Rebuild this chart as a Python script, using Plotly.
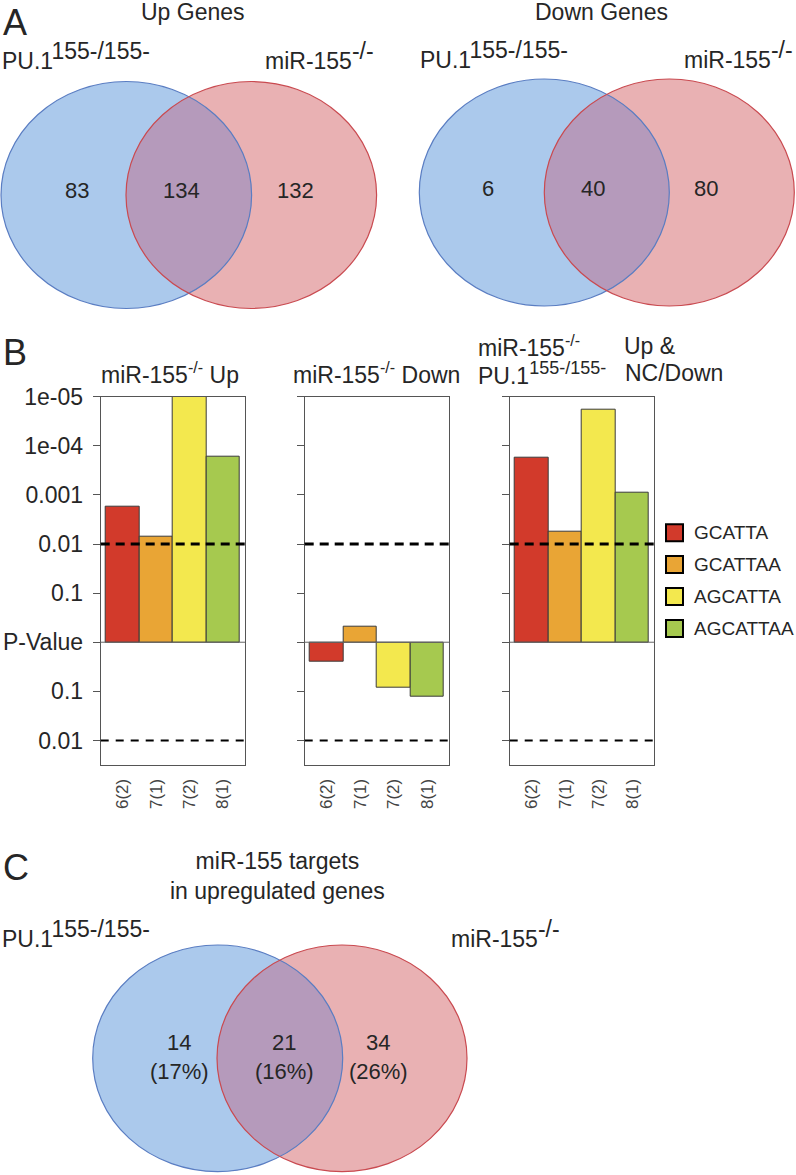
import numpy as np
import plotly.graph_objects as go

W, H = 796, 1175
FONT = "Liberation Sans, Arial, sans-serif"
TXT = "#262626"

# ---------------- data ----------------
motifs = ["GCATTA", "GCATTAA", "AGCATTA", "AGCATTAA"]
site_labels = ["6(2)", "7(1)", "7(2)", "8(1)"]
motif_colors = ["#d23a2b", "#e9a535", "#f3e84e", "#a6c94f"]

# -log10(P); positive = enriched, negative = depleted
up_logp = [2.76, 2.14, 5.0, 3.77]
down_logp = [-0.40, 0.31, -0.93, -1.10]
both_logp = [3.75, 2.25, 4.73, 3.05]

ytick_vals = [5, 4, 3, 2, 1, 0, -1, -2]
ytick_text = ["1e-05", "1e-04", "0.001", "0.01", "0.1", "P-Value", "0.1", "0.01"]
sig_level = 2  # 0.01

up_venn = [83, 134, 132]
down_venn = [6, 40, 80]
target_venn = [14, 21, 34]
target_pct = [17, 16, 26]


def px(x):
    return x / W


def py(y):
    return 1 - y / H


fig = go.Figure()
shapes = []
annotations = []

# ---------------- panel B bar charts ----------------
panels = [
    (up_logp, (100.7, 245.0)),
    (down_logp, (304.7, 449.3)),
    (both_logp, (509.7, 654.3)),
]
ydom = [py(765), py(396.7)]
layout_axes = {}
for k, (vals, (xa, xb)) in enumerate(panels):
    sfx = "" if k == 0 else str(k + 1)
    fig.add_trace(go.Bar(
        x=list(range(len(vals))), y=vals, width=1,
        marker=dict(color=motif_colors, line=dict(color="#3a3a3a", width=1)),
        xaxis="x" + sfx, yaxis="y" + sfx, showlegend=False, hoverinfo="skip"))
    layout_axes["xaxis" + sfx] = dict(
        domain=[px(xa), px(xb)], anchor="y" + sfx, range=[-0.66, 3.66],
        tickmode="array", tickvals=list(range(4)), ticktext=site_labels,
        tickangle=-90, ticks="", ticklabelstandoff=6,
        tickfont=dict(size=17, color="#444", family=FONT),
        showline=True, mirror=True, linecolor="#555", linewidth=1,
        showgrid=False, zeroline=False, automargin=False, fixedrange=True)
    layout_axes["yaxis" + sfx] = dict(
        domain=ydom, anchor="x" + sfx, range=[-2.5, 5],
        tickmode="array", tickvals=ytick_vals, ticktext=ytick_text,
        showticklabels=(k == 0), ticks="outside", ticklen=7, tickcolor="#555",
        ticklabelstandoff=5,
        tickfont=dict(size=23, color=TXT, family=FONT),
        showline=True, mirror=True, linecolor="#555", linewidth=1,
        showgrid=False, zeroline=False, automargin=False, fixedrange=True)
    xd = "x" + sfx + " domain"
    yr = "y" + sfx
    shapes.append(dict(type="line", xref=xd, yref=yr, x0=0, x1=1, y0=0, y1=0,
                       line=dict(color="#666", width=1)))
    shapes.append(dict(type="line", xref=xd, yref=yr, x0=0, x1=1,
                       y0=sig_level, y1=sig_level,
                       line=dict(color="black", width=3, dash="9px,6px")))
    shapes.append(dict(type="line", xref=xd, yref=yr, x0=0, x1=1,
                       y0=-sig_level, y1=-sig_level,
                       line=dict(color="black", width=2, dash="8px,7px")))


def ann(text, x, y, size=23, xanchor="center", yanchor="middle", color=TXT):
    annotations.append(dict(text=text, x=px(x), y=py(y), xref="paper", yref="paper",
                            showarrow=False, xanchor=xanchor, yanchor=yanchor,
                            font=dict(size=size, color=color, family=FONT)))


# panel titles
ann("miR-155<sup>-/-</sup> Up", 170, 373)
ann("miR-155<sup>-/-</sup> Down", 376, 373)
ann("miR-155<sup>-/-</sup>", 476, 346, xanchor="left")
ann("Up &", 622, 346, xanchor="left")
ann("PU.1<sup><span style='font-size:18px'>155-/155-</span></sup>", 476, 373, xanchor="left")
ann("NC/Down", 623, 373, xanchor="left")

# legend (custom)
leg_y = [532.7, 564.6, 596.5, 628.4]
for m, c, yy in zip(motifs, motif_colors, leg_y):
    shapes.append(dict(type="rect", xref="paper", yref="paper",
                       x0=px(666), x1=px(683), y0=py(yy + 8.5), y1=py(yy - 8.5),
                       fillcolor=c, line=dict(color="black", width=2)))
    ann(m, 692, yy, size=19, xanchor="left")

# ---------------- Venn diagrams ----------------
BLUE_F, BLUE_L = "#abc9ec", "#5a7dc2"
RED_F, RED_L = "#e9b1b3", "#c94a50"
LENS_F = "#b59abb"


def venn(cx1, cx2, cy, rx, ry):
    def ell(cx, fill):
        return dict(type="circle", xref="paper", yref="paper",
                    x0=px(cx - rx), x1=px(cx + rx), y0=py(cy + ry), y1=py(cy - ry),
                    fillcolor=fill, line=dict(width=0))
    shapes.append(ell(cx1, BLUE_F))
    shapes.append(ell(cx2, RED_F))
    d = cx2 - cx1
    th = np.arccos(d / 2 / rx)
    t1 = np.linspace(-th, th, 60)
    t2 = np.linspace(np.pi - th, np.pi + th, 60)
    xs = np.concatenate([cx1 + rx * np.cos(t1), cx2 + rx * np.cos(t2)])
    ys = np.concatenate([cy + ry * np.sin(t1), cy + ry * np.sin(t2)])
    path = "M " + " L ".join(f"{px(a):.5f},{py(b):.5f}" for a, b in zip(xs, ys)) + " Z"
    shapes.append(dict(type="path", xref="paper", yref="paper", path=path,
                       fillcolor=LENS_F, line=dict(width=0)))
    for cx, lc in ((cx1, BLUE_L), (cx2, RED_L)):
        shapes.append(dict(type="circle", xref="paper", yref="paper",
                           x0=px(cx - rx), x1=px(cx + rx), y0=py(cy + ry), y1=py(cy - ry),
                           fillcolor="rgba(0,0,0,0)", line=dict(color=lc, width=1.2)))


PU1 = "PU.1<sup><span style='font-size:23px'>155-/155-</span></sup>"
MIR = "miR-155<sup><span style='font-size:23px'>-/-</span></sup>"

# A: Up genes
venn(126.3, 251.3, 195, 125.3, 113.5)
for v, x in zip(up_venn, [76.7, 181, 295.7]):
    ann(str(v), x, 191, size=22)
ann("Up Genes", 193, 12)
ann(PU1, 0, 56, xanchor="left")
ann(MIR, 263, 56, xanchor="left")

# A: Down genes
venn(544.3, 669.3, 192.5, 125, 113.5)
for v, x in zip(down_venn, [487.7, 592.7, 706]):
    ann(str(v), x, 188, size=22)
ann("Down Genes", 601, 12)
ann(PU1, 418, 55, xanchor="left")
ann(MIR, 682, 55, xanchor="left")

# C: targets
venn(217.7, 342.0, 1058.3, 125, 113.3)
for v, p, x in zip(target_venn, target_pct, [179, 284.3, 378.3]):
    ann(f"{v}<br>({p}%)", x, 1056.7, size=22)
ann("miR-155 targets<br>in upregulated genes", 277, 876)
ann(PU1, 0, 934, xanchor="left")
ann(MIR, 449, 934, xanchor="left")

# panel letters
ann("A", 1, 0, size=36, xanchor="left", yanchor="top")
ann("B", 1, 352, size=36, xanchor="left")
ann("C", 1, 867, size=36, xanchor="left")

fig.update_layout(
    width=W, height=H, margin=dict(l=0, r=0, t=0, b=0),
    template="none", paper_bgcolor="white", plot_bgcolor="white",
    bargap=0, showlegend=False, shapes=shapes, annotations=annotations,
    font=dict(family=FONT, color=TXT), **layout_axes)

fig.write_html("out.html", config={"displayModeBar": False},
               post_script="document.body.style.margin='0';document.body.style.overflow='hidden';")
